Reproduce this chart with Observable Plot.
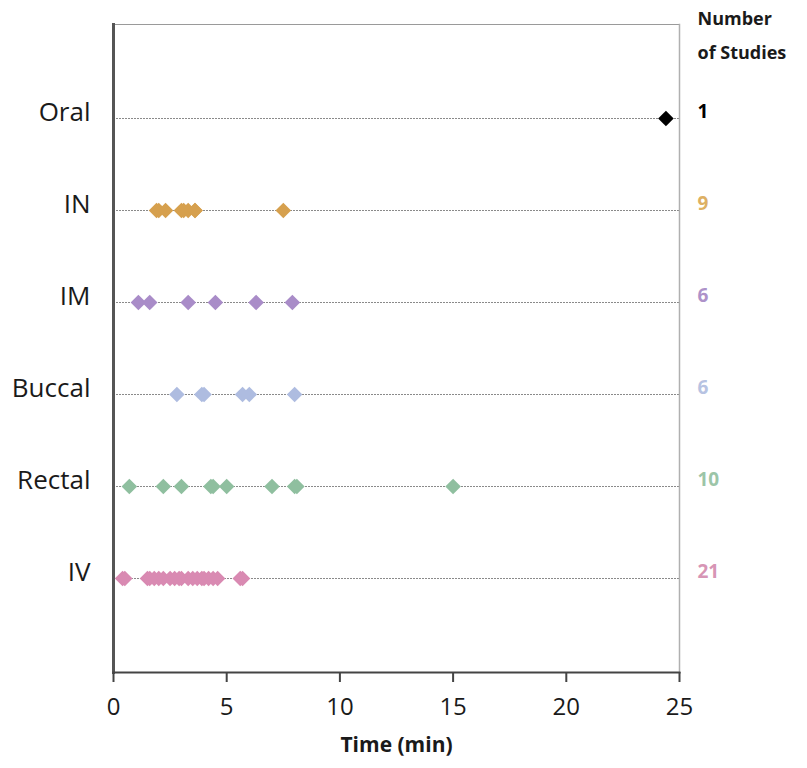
<!DOCTYPE html>
<html>
<head>
<meta charset="utf-8">
<script src="https://cdn.jsdelivr.net/npm/d3@7"></script>
<script src="https://cdn.jsdelivr.net/npm/@observablehq/plot@0.6"></script>
<style>
  html, body { margin: 0; padding: 0; background: #fff; }
  #chart { width: 807px; height: 768px; }
</style>
</head>
<body>
<div id="chart"></div>
<script>
const routes = ["Oral", "IN", "IM", "Buccal", "Rectal", "IV"];
const oral = [24.4];
const intranasal = [1.9, 2.0, 2.3, 3.0, 3.1, 3.3, 3.6, 3.6, 7.5];
const intramuscular = [1.1, 1.6, 3.3, 4.5, 6.3, 7.9];
const buccal = [2.8, 3.9, 4.0, 5.7, 6.0, 8.0];
const rectal = [0.7, 2.2, 3.0, 4.3, 4.4, 5.0, 7.0, 8.0, 8.1, 15.0];
const iv = [0.4, 0.5, 1.5, 1.6, 1.8, 2.0, 2.2, 2.5, 2.7, 2.9, 3.0, 3.3, 3.5, 3.7, 3.9, 4.0, 4.2, 4.4, 4.6, 5.6, 5.7];
const counts = [1, 9, 6, 6, 10, 21];
const dotColors = ["#000000", "#d6a04e", "#a98cc8", "#aebce0", "#8fbf9f", "#d98ab2"];
const countColors = ["#000000", "#ddb063", "#ad92c9", "#b7c3e2", "#9cc5a8", "#d795b5"];
const xTicks = [0, 5, 10, 15, 20, 25];
const xLabel = "Time (min)";
const headerLines = ["Number", "of Studies"];

const series = [oral, intranasal, intramuscular, buccal, rectal, iv];
const points = series.flatMap((vals, i) => vals.map(v => ({route: routes[i], time: v})));
const colorOf = Object.fromEntries(routes.map((r, i) => [r, dotColors[i]]));
const rows = routes.map((r, i) => ({route: r, n: counts[i], color: countColors[i]}));

const chart = Plot.plot({
  width: 807,
  height: 768,
  marginLeft: 113,
  marginRight: 128,
  marginTop: 24,
  marginBottom: 96,
  style: {fontFamily: "'Open Sans', sans-serif", background: "#fff", color: "#1a1a1a"},
  x: {domain: [0, 25], ticks: xTicks, label: null},
  y: {type: "point", domain: routes, padding: 1, label: null},
  marks: [
    Plot.ruleY(routes, {y: d => d, stroke: "#8a8a8a", strokeDasharray: "2,1", strokeWidth: 1}),
    Plot.frame({anchor: "top", stroke: "#9a9a9a", strokeDasharray: "2,1"}),
    Plot.frame({anchor: "right", stroke: "#b0b0b0", strokeWidth: 1.5}),
    Plot.frame({anchor: "left", stroke: "#555", strokeWidth: 3}),
    Plot.frame({anchor: "bottom", stroke: "#444", strokeWidth: 2}),
    Plot.axisX({ticks: xTicks, tickSize: 10, tickPadding: 15, fontSize: 24, stroke: "#444", strokeWidth: 2, label: null, fill: "#1a1a1a"}),
    Plot.axisY({tickSize: 0, tickPadding: 23, fontSize: 26, dy: -6, label: null, fill: "#1a1a1a"}),
    Plot.dot(points, {x: "time", y: "route", symbol: "diamond2", r: 7, fill: d => colorOf[d.route], stroke: "none"}),
    Plot.text(rows, {x: () => 25, y: "route", text: d => String(d.n), fill: "color", dx: 18, dy: -7, textAnchor: "start", fontSize: 19, fontWeight: "bold"}),
    Plot.text([headerLines[0]], {frameAnchor: "top-right", text: d => d, dx: 18, dy: -12, textAnchor: "start", fontSize: 18, fontWeight: "bold", fill: "#1a1a1a"}),
    Plot.text([headerLines[1]], {frameAnchor: "top-right", text: d => d, dx: 18, dy: 22, textAnchor: "start", fontSize: 18, fontWeight: "bold", fill: "#1a1a1a"}),
    Plot.text([xLabel], {frameAnchor: "bottom", text: d => d, dy: 79, fontSize: 21, fontWeight: "bold", fill: "#1a1a1a"})
  ]
});
document.getElementById("chart").appendChild(chart);
</script>
</body>
</html>
